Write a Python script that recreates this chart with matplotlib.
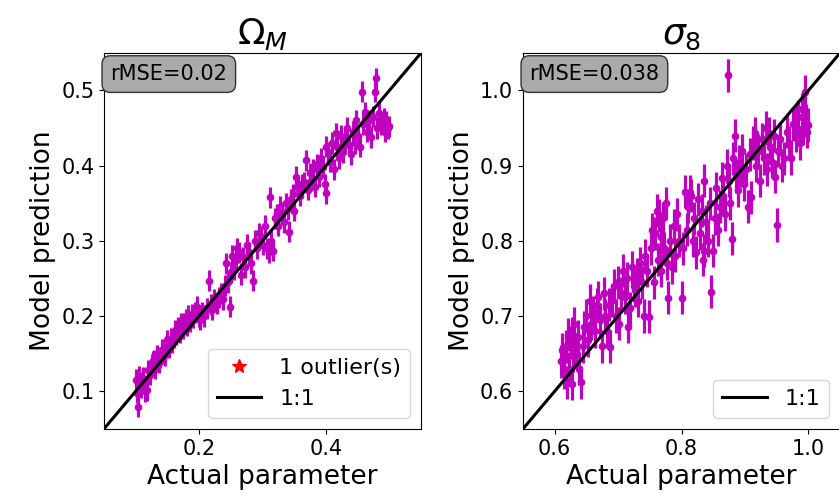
import matplotlib
matplotlib.use("Agg")
import matplotlib.pyplot as plt

# Omega_M: actual vs predicted
om_true = [0.100, 0.102, 0.103, 0.105, 0.108, 0.110, 0.112, 0.115, 0.118, 0.120,
           0.122, 0.125, 0.127, 0.129, 0.131, 0.134, 0.136, 0.139, 0.141, 0.143,
           0.146, 0.148, 0.150, 0.152, 0.155, 0.157, 0.160, 0.162, 0.164, 0.167,
           0.170, 0.172, 0.174, 0.176, 0.179, 0.181, 0.183, 0.186, 0.188, 0.191,
           0.193, 0.196, 0.199, 0.202, 0.205, 0.208, 0.212, 0.215, 0.218, 0.221,
           0.224, 0.228, 0.231, 0.234, 0.237, 0.240, 0.243, 0.245, 0.248, 0.250,
           0.252, 0.255, 0.258, 0.260, 0.263, 0.266, 0.269, 0.272, 0.275, 0.278,
           0.281, 0.285, 0.288, 0.291, 0.295, 0.298, 0.301, 0.304, 0.307, 0.310,
           0.311, 0.314, 0.316, 0.319, 0.322, 0.325, 0.328, 0.331, 0.334, 0.337,
           0.340, 0.342, 0.345, 0.348, 0.350, 0.353, 0.356, 0.359, 0.362, 0.365,
           0.368, 0.371, 0.374, 0.377, 0.380, 0.383, 0.386, 0.389, 0.392, 0.395,
           0.398, 0.400, 0.400, 0.403, 0.406, 0.409, 0.412, 0.415, 0.418, 0.421,
           0.424, 0.427, 0.430, 0.433, 0.436, 0.439, 0.442, 0.445, 0.448, 0.451,
           0.454, 0.456, 0.459, 0.462, 0.465, 0.468, 0.471, 0.474, 0.477, 0.478,
           0.481, 0.484, 0.487, 0.488, 0.491, 0.493, 0.495, 0.497, 0.499]
om_pred = [0.115, 0.098, 0.079, 0.120, 0.105, 0.112, 0.118, 0.100, 0.101, 0.128,
           0.122, 0.135, 0.140, 0.141, 0.130, 0.148, 0.138, 0.145, 0.155, 0.150,
           0.148, 0.160, 0.168, 0.158, 0.170, 0.165, 0.172, 0.180, 0.176, 0.185,
           0.178, 0.190, 0.183, 0.190, 0.195, 0.188, 0.200, 0.193, 0.202, 0.198,
           0.205, 0.212, 0.200, 0.195, 0.205, 0.200, 0.210, 0.247, 0.215, 0.208,
           0.222, 0.217, 0.225, 0.230, 0.222, 0.240, 0.270, 0.245, 0.212, 0.258,
           0.280, 0.262, 0.275, 0.290, 0.285, 0.255, 0.278, 0.265, 0.295, 0.285,
           0.270, 0.247, 0.300, 0.290, 0.310, 0.305, 0.295, 0.320, 0.290, 0.285,
           0.358, 0.300, 0.287, 0.330, 0.335, 0.320, 0.345, 0.338, 0.325, 0.350,
           0.342, 0.312, 0.355, 0.362, 0.340, 0.385, 0.370, 0.360, 0.375, 0.378,
           0.407, 0.368, 0.390, 0.380, 0.395, 0.372, 0.402, 0.385, 0.410, 0.398,
           0.375, 0.425, 0.363, 0.418, 0.405, 0.430, 0.395, 0.443, 0.425, 0.410,
           0.440, 0.418, 0.435, 0.450, 0.428, 0.415, 0.445, 0.430, 0.460, 0.440,
           0.425, 0.498, 0.455, 0.471, 0.445, 0.460, 0.438, 0.465, 0.498, 0.516,
           0.450, 0.470, 0.455, 0.456, 0.462, 0.445, 0.458, 0.450, 0.452]
om_err = 0.014

# sigma_8: actual vs predicted
s8_true = [0.610, 0.612, 0.614, 0.615, 0.617, 0.619, 0.621, 0.623, 0.625, 0.627,
           0.627, 0.629, 0.631, 0.633, 0.636, 0.639, 0.642, 0.644, 0.646, 0.649,
           0.652, 0.655, 0.657, 0.660, 0.663, 0.666, 0.668, 0.671, 0.674, 0.677,
           0.680, 0.683, 0.685, 0.687, 0.690, 0.693, 0.696, 0.699, 0.702, 0.705,
           0.708, 0.711, 0.714, 0.716, 0.719, 0.722, 0.725, 0.726, 0.729, 0.732,
           0.735, 0.738, 0.740, 0.743, 0.745, 0.748, 0.751, 0.754, 0.756, 0.758,
           0.761, 0.763, 0.765, 0.767, 0.768, 0.770, 0.772, 0.775, 0.777, 0.779,
           0.782, 0.785, 0.788, 0.790, 0.793, 0.796, 0.800, 0.802, 0.805, 0.808,
           0.810, 0.813, 0.815, 0.818, 0.820, 0.823, 0.826, 0.829, 0.832, 0.834,
           0.836, 0.836, 0.839, 0.842, 0.845, 0.847, 0.850, 0.852, 0.855, 0.858,
           0.861, 0.863, 0.866, 0.869, 0.872, 0.873, 0.875, 0.877, 0.879, 0.881,
           0.884, 0.886, 0.889, 0.891, 0.894, 0.896, 0.899, 0.902, 0.905, 0.908,
           0.910, 0.912, 0.915, 0.918, 0.921, 0.924, 0.927, 0.930, 0.933, 0.935,
           0.937, 0.940, 0.943, 0.945, 0.947, 0.950, 0.952, 0.955, 0.958, 0.962,
           0.966, 0.970, 0.973, 0.976, 0.978, 0.981, 0.984, 0.987, 0.990, 0.992,
           0.994, 0.996, 0.998, 1.000]
s8_pred = [0.640, 0.655, 0.641, 0.625, 0.660, 0.612, 0.675, 0.630, 0.665, 0.610,
           0.677, 0.648, 0.690, 0.655, 0.672, 0.630, 0.612, 0.660, 0.685, 0.700,
           0.668, 0.720, 0.690, 0.705, 0.680, 0.715, 0.725, 0.695, 0.660, 0.730,
           0.700, 0.680, 0.715, 0.659, 0.721, 0.740, 0.700, 0.745, 0.690, 0.730,
           0.760, 0.725, 0.750, 0.686, 0.710, 0.765, 0.740, 0.734, 0.755, 0.720,
           0.770, 0.745, 0.700, 0.780, 0.760, 0.699, 0.790, 0.815, 0.745, 0.810,
           0.840, 0.775, 0.834, 0.760, 0.805, 0.830, 0.790, 0.850, 0.770, 0.724,
           0.800, 0.765, 0.820, 0.780, 0.835, 0.800, 0.724, 0.790, 0.865, 0.815,
           0.845, 0.865, 0.860, 0.800, 0.830, 0.785, 0.855, 0.810, 0.840, 0.775,
           0.880, 0.787, 0.825, 0.800, 0.850, 0.732, 0.787, 0.830, 0.870, 0.815,
           0.845, 0.883, 0.860, 0.835, 0.900, 1.020, 0.880, 0.850, 0.803, 0.910,
           0.940, 0.885, 0.867, 0.905, 0.894, 0.920, 0.875, 0.895, 0.845, 0.915,
           0.858, 0.930, 0.943, 0.900, 0.920, 0.880, 0.935, 0.910, 0.950, 0.895,
           0.943, 0.925, 0.905, 0.940, 0.885, 0.821, 0.920, 0.935, 0.900, 0.910,
           0.945, 0.930, 0.910, 0.955, 0.958, 0.940, 0.965, 0.930, 0.975, 0.950,
           0.998, 0.960, 0.945, 0.954]
s8_err = 0.022

panels = [
    dict(true=om_true, pred=om_pred, err=om_err, title=r'$\Omega_M$',
         rmse='rMSE=0.02', n_out=1, lims=(0.05, 0.55),
         xticks=[0.2, 0.4], yticks=[0.1, 0.2, 0.3, 0.4, 0.5]),
    dict(true=s8_true, pred=s8_pred, err=s8_err, title=r'$\sigma_8$',
         rmse='rMSE=0.038', n_out=0, lims=(0.55, 1.05),
         xticks=[0.6, 0.8, 1.0], yticks=[0.6, 0.7, 0.8, 0.9, 1.0]),
]

fig = plt.figure(figsize=(8.39, 4.98), dpi=100)
positions = [[0.124, 0.139, 0.378, 0.755], [0.6234, 0.139, 0.378, 0.755]]

for p, pos in zip(panels, positions):
    ax = fig.add_axes(pos)
    ax.errorbar(p['true'], p['pred'], yerr=p['err'], fmt='o', color='m',
                ms=4.5, elinewidth=2.3, capsize=0, zorder=2)
    if p['n_out'] > 0:
        ax.plot([], [], '*', color='red', ms=10, ls='none',
                label='%d outlier(s)' % p['n_out'])
    ax.plot(p['lims'], p['lims'], color='black', lw=2.2, label='1:1', zorder=3)
    ax.set_xlim(p['lims'])
    ax.set_ylim(p['lims'])
    ax.set_xticks(p['xticks'])
    ax.set_yticks(p['yticks'])
    ax.tick_params(labelsize=15)
    ax.set_title(p['title'], fontsize=26)
    ax.set_xlabel('Actual parameter', fontsize=19)
    ax.set_ylabel('Model prediction', fontsize=19)
    ax.text(0.02, 0.97, p['rmse'], transform=ax.transAxes, fontsize=15,
            va='top', ha='left',
            bbox=dict(boxstyle='round,pad=0.4', facecolor='#aaaaaa',
                      edgecolor='#333333'))
    ax.legend(loc='lower right', fontsize=16)

fig.savefig('out.png', dpi=100)
